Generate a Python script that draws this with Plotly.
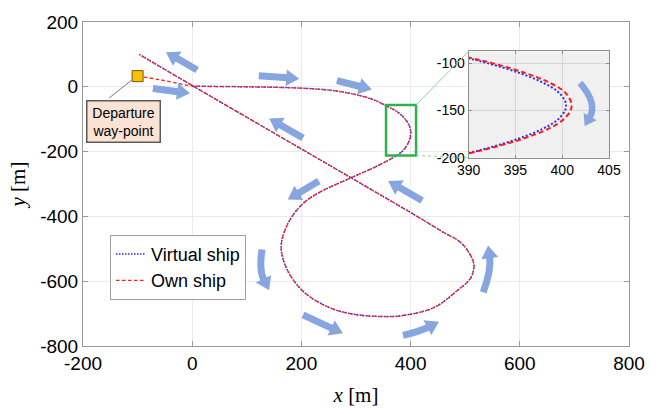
import numpy as np
import plotly.graph_objects as go

# ---------------- data ----------------
# main trajectory (m)
virtual_x = [0, 100, 197, 260, 307, 332, 350, 381, 397, 400, 396, 384, 344, 292, 234, 203, 176, 163,
             173, 203, 252, 300, 350, 381, 442, 484, 510, 516, 508, 490, 460, 420, 292, 100, 0, -97]
virtual_y = [2, 0, -4, -12, -27, -40, -54, -84, -118, -145, -172, -200, -240, -280, -325, -360, -420, -491,
             -561, -631, -682, -703, -709, -707, -682, -631, -590, -551, -515, -478, -449, -408, -282, -94, 4, 100]

own_x = [-100, -60, -25, 0, 100, 197, 260, 307, 332, 350, 381, 397, 400.6, 396, 384, 344, 292, 234, 203, 176, 163,
         173, 203, 252, 300, 350, 381, 442, 484, 510, 516, 508, 490, 460, 420, 292, 100, 0, -97]
own_y = [33, 22, 10, 3, 0, -4, -12, -27, -40, -54, -84, -118, -145, -172, -200, -240, -280, -325, -360, -420, -491,
         -561, -631, -682, -703, -709, -707, -682, -631, -590, -551, -515, -478, -449, -408, -282, -94, 4, 100]

# zoomed detail of the turn (inset)
inset_y = [-88, -95, -100, -110, -120, -130, -140, -145, -150, -160, -170, -180, -190, -195, -202]
inset_virtual_x = [387.0, 390.0, 392.0, 395.3, 397.8, 399.5, 400.3, 400.4, 400.3, 399.5, 397.8, 395.3, 392.0, 390.0, 386.9]
inset_own_x = [387.3, 390.4, 392.5, 395.9, 398.5, 400.2, 400.9, 401.0, 400.9, 400.1, 398.4, 395.8, 392.3, 390.2, 387.0]

waypoint_x = [-100]
waypoint_y = [33]

x_ticks = [-200, 0, 200, 400, 600, 800]
y_ticks = [-800, -600, -400, -200, 0, 200]
inset_x_ticks = [390, 395, 400, 405]
inset_y_ticks = [-200, -150, -100]

# ---------------- layout geometry ----------------
W, H = 672, 414
ML, MR, MT, MB = 83, 43, 14, 68
XR, YR = [-200, 800], [-800, 200]
IXR, IYR = [390, 405], [-200, -87.5]
PW, PH = W - ML - MR, H - MT - MB
IDX = [(468.7 - ML) / PW, (609 - ML) / PW]
IDY = [1 - (153 - MT) / PH, 1 - (44 - MT) / PH]

ARROW_C = "#87a5de"
GREEN = "#2eb24d"


def make_map(xr, yr, dx, dy):
    left = ML + dx[0] * PW
    width = (dx[1] - dx[0]) * PW
    top = MT + (1 - dy[1]) * PH
    height = (dy[1] - dy[0]) * PH

    def to_px(x, y):
        return (left + (x - xr[0]) / (xr[1] - xr[0]) * width,
                top + (yr[1] - y) / (yr[1] - yr[0]) * height)

    def from_px(px, py):
        return (xr[0] + (px - left) / width * (xr[1] - xr[0]),
                yr[1] - (py - top) / height * (yr[1] - yr[0]))
    return to_px, from_px


main_to_px, main_from_px = make_map(XR, YR, [0, 1], [0, 1])
ins_to_px, ins_from_px = make_map(IXR, IYR, IDX, IDY)


def arrow_shapes(tail, ctrl, head, to_px, from_px, xref, yref, head_len=13, head_half=8.5, width=7):
    t = np.array(to_px(*tail), float)
    h = np.array(to_px(*head), float)
    c = np.array(to_px(*ctrl), float) if ctrl is not None else None
    ref = c if c is not None else t
    d = h - ref
    d /= np.linalg.norm(d)
    n = np.array([-d[1], d[0]])
    base = h - head_len * d
    send = base + 1.0 * d
    lft = base + head_half * n
    rgt = base - head_half * n

    def f(p):
        x, y = from_px(*p)
        return f"{x:.3f},{y:.3f}"
    if c is not None:
        shaft = f"M {f(t)} Q {f(c)} {f(send)}"
    else:
        shaft = f"M {f(t)} L {f(send)}"
    hp = f"M {f(h)} L {f(lft)} L {f(rgt)} Z"
    return [dict(type="path", path=shaft, xref=xref, yref=yref,
                 line=dict(color=ARROW_C, width=width), layer="above"),
            dict(type="path", path=hp, xref=xref, yref=yref, fillcolor=ARROW_C,
                 line=dict(width=0), layer="above")]


# direction arrows (tail, control, head) in main-axis units
main_arrows = [
    ((9, 52), None, (-48, 107)),
    ((-72, -5), None, (-4, -20)),
    ((122, 34), None, (196, 25)),
    ((265, 19), None, (329, -8)),
    ((203, -158), None, (141, -98)),
    ((421, -351), None, (359, -291)),
    ((232, -291), None, (175, -348)),
    ((128, -502), (122, -565), (141, -628)),
    ((203, -704), None, (276, -761)),
    ((386, -767), (417, -755), (452, -725)),
    ((533, -634), (548, -565), (542, -490)),
]
inset_arrows = [
    ((401.9, -121.0), (403.8, -143.0), (402.4, -166.5)),
]

shapes = []
# inset background (drawn in inset subplot, below its grid)
shapes.append(dict(type="rect", xref="x2", yref="y2", x0=IXR[0], x1=IXR[1], y0=IYR[0], y1=IYR[1],
                   fillcolor="#f0f0f0", line=dict(width=0), layer="below"))
# zoom rectangle and connectors
zx0, zx1, zy0, zy1 = 355, 410, -212, -56
shapes.append(dict(type="rect", xref="x", yref="y", x0=zx0, x1=zx1, y0=zy0, y1=zy1,
                   line=dict(color=GREEN, width=2.5), layer="above"))
itl = main_from_px(*ins_to_px(IXR[0], IYR[1]))
ibl = main_from_px(*ins_to_px(IXR[0], IYR[0]))
shapes.append(dict(type="line", xref="x", yref="y", x0=zx1, y0=zy1, x1=itl[0], y1=itl[1],
                   line=dict(color="#8fd3a0", width=1), layer="above"))
shapes.append(dict(type="line", xref="x", yref="y", x0=zx1, y0=zy0, x1=ibl[0], y1=ibl[1],
                   line=dict(color="#8fd3a0", width=1, dash="dot"), layer="above"))
# pointer from label box to departure way-point
p0 = main_from_px(109, 92)
p1 = main_from_px(*(np.array(main_to_px(waypoint_x[0], waypoint_y[0])) + np.array([-4.5, 3.0])))
shapes.append(dict(type="line", xref="x", yref="y", x0=p0[0], y0=p0[1], x1=p1[0], y1=p1[1],
                   line=dict(color="#7a7a7a", width=1), layer="above"))
for a in main_arrows:
    shapes += arrow_shapes(*a, main_to_px, main_from_px, "x", "y")
for a in inset_arrows:
    shapes += arrow_shapes(*a, ins_to_px, ins_from_px, "x2", "y2", head_len=11, head_half=7.5, width=6.5)

BLUE, RED = "#2a2aff", "#ff1a1a"
fig = go.Figure()
fig.add_trace(go.Scatter(x=virtual_x, y=virtual_y, mode="lines", name="Virtual ship",
                         line=dict(color=BLUE, dash="1.5px,1.5px", width=1.5, shape="spline")))
fig.add_trace(go.Scatter(x=own_x, y=own_y, mode="lines", name="Own ship",
                         line=dict(color=RED, dash="3.5px,2.5px", width=1.3, shape="spline")))
fig.add_trace(go.Scatter(x=waypoint_x, y=waypoint_y, mode="markers", showlegend=False,
                         marker=dict(symbol="square", size=11, color="#ffc000",
                                     line=dict(color="#6b5a1e", width=1))))
fig.add_trace(go.Scatter(x=inset_virtual_x, y=inset_y, mode="lines", showlegend=False, xaxis="x2", yaxis="y2",
                         line=dict(color=BLUE, dash="2px,2px", width=2, shape="spline")))
fig.add_trace(go.Scatter(x=inset_own_x, y=inset_y, mode="lines", showlegend=False, xaxis="x2", yaxis="y2",
                         line=dict(color=RED, dash="5px,3px", width=2, shape="spline")))

SANS = "Liberation Sans, Arial, sans-serif"
SERIF = "Liberation Serif, Times New Roman, serif"
axis_common = dict(showgrid=True, gridcolor="#ebebeb", gridwidth=1, zeroline=False,
                   showline=True, linecolor="#9a9a9a", linewidth=1, mirror="ticks",
                   ticks="inside", ticklen=5, tickcolor="#9a9a9a",
                   tickfont=dict(family=SANS, size=19, color="#000"))
inset_common = dict(showgrid=True, gridcolor="#d6d6d6", gridwidth=1, zeroline=False,
                    showline=True, linecolor="#8c8c8c", linewidth=1, mirror="ticks",
                    ticks="inside", ticklen=3, tickcolor="#8c8c8c",
                    tickfont=dict(family=SANS, size=14, color="#000"))

fig.update_layout(
    width=W, height=H,
    margin=dict(l=ML, r=MR, t=MT, b=MB),
    paper_bgcolor="white", plot_bgcolor="white",
    showlegend=True,
    legend=dict(x=(110 - ML) / PW, y=1 - (232 - MT) / PH, xanchor="left", yanchor="top",
                bgcolor="white", bordercolor="#a0a0a0", borderwidth=1,
                font=dict(family=SANS, size=18, color="#000"), itemwidth=30,
                tracegroupgap=0),
    xaxis=dict(range=XR, tickvals=x_ticks, ticktext=[str(v) for v in x_ticks], domain=[0, 1],
               title=dict(text="<i>x</i> [m]", font=dict(family=SERIF, size=21, color="#000"), standoff=14),
               **axis_common),
    yaxis=dict(range=YR, tickvals=y_ticks, ticktext=[str(v) for v in y_ticks], domain=[0, 1],
               title=dict(text="<i>y</i> [m]", font=dict(family=SERIF, size=21, color="#000"), standoff=8),
               **axis_common),
    xaxis2=dict(range=IXR, tickvals=inset_x_ticks, ticktext=[str(v) for v in inset_x_ticks],
                domain=IDX, anchor="y2", **inset_common),
    yaxis2=dict(range=IYR, tickvals=inset_y_ticks, ticktext=[str(v) for v in inset_y_ticks],
                domain=IDY, anchor="x2", **inset_common),
    shapes=shapes,
    annotations=[dict(x=main_from_px(123, 115.5)[0], y=main_from_px(123, 115.5)[1], xref="x", yref="y",
                      text="Departure<br>way-point", showarrow=False,
                      font=dict(family=SANS, size=14, color="#000"),
                      bgcolor="#fbe3d3", bordercolor="#5a5a5a", borderwidth=1.5, borderpad=3,
                      width=66, align="center")],
)

fig.write_html("out.html")
